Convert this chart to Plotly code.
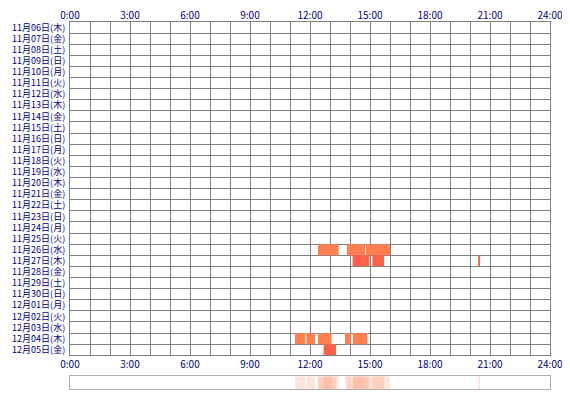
import plotly.graph_objects as go

weekdays = ["日", "月", "火", "水", "木", "金", "土"]
# 11/06 is Thursday
day_labels = []
month_days = [(11, d) for d in range(6, 31)] + [(12, d) for d in range(1, 6)]
for i, (m, d) in enumerate(month_days):
    day_labels.append(f"{m}月{d:02d}日({weekdays[(4 + i) % 7]})")

# active periods: row index, start hour, end hour, colour
bar_rows = [20, 20, 20, 21, 21, 21, 28, 28, 28, 28, 28, 29]
bar_start = [12.4, 13.85, 14.8, 14.13, 15.12, 20.4, 11.25, 11.82, 12.4, 13.75, 14.15, 12.68]
bar_end = [13.43, 14.75, 16.0, 14.97, 15.7, 20.5, 11.77, 12.25, 13.08, 14.05, 14.87, 13.3]
bar_colors = ["#FF7F50"] * 3 + ["#FF6347"] * 3 + ["#FF7F50"] * 5 + ["#FF6347"]

hour_text = [f"{h}:00" if h % 3 == 0 else "" for h in range(25)]

fig = go.Figure()
fig.add_trace(go.Bar(
    orientation="h",
    y=[r + 0.5 for r in bar_rows],
    base=bar_start,
    x=[e - s for s, e in zip(bar_start, bar_end)],
    width=1,
    marker=dict(color=bar_colors, line_width=0),
    xaxis="x", yaxis="y", showlegend=False,
))
# summary strip
fig.add_trace(go.Bar(
    orientation="h",
    y=[0.5] * len(bar_start),
    base=bar_start,
    x=[e - s for s, e in zip(bar_start, bar_end)],
    width=1,
    marker=dict(color="#FF7F50", opacity=0.2, line_width=0),
    xaxis="x3", yaxis="y2", showlegend=False,
))

tickfont = dict(family="Noto Sans CJK JP", size=10, color="#000080")
yfont = dict(family="Noto Sans CJK JP", size=9, color="#000080")
xcommon = dict(range=[0, 24], tickvals=list(range(25)), ticktext=hour_text,
               showgrid=True, gridcolor="#808080", gridwidth=1, zeroline=False,
               tickfont=tickfont, ticks="", fixedrange=True, automargin=False,
               ticklabeloverflow="allow")

fig.update_layout(
    width=554, height=384,
    margin=dict(l=62, r=12, t=14, b=3),
    plot_bgcolor="white", paper_bgcolor="white",
    barmode="overlay",
    xaxis=dict(**xcommon, anchor="y", showline=True, linecolor="#808080", mirror=True),
    xaxis2=dict(**xcommon, overlaying="x", side="top", anchor="y"),
    xaxis3=dict(range=[0, 24], anchor="y2", showticklabels=False, showgrid=False,
                zeroline=False, showline=True, linecolor="#b0b0b0", mirror=True,
                automargin=False),
    yaxis=dict(domain=[0.092, 1], range=[30, 0], tickvals=[i + 0.5 for i in range(30)],
               ticktext=day_labels, tickfont=yfont, showgrid=False, zeroline=False,
               ticks="", showline=True, linecolor="#808080", mirror=True,
               automargin=False, ticklabelstandoff=2, ticklabeloverflow="allow",
               minor=dict(tickvals=list(range(31)), showgrid=True, gridcolor="#808080",
                          gridwidth=1)),
    yaxis2=dict(domain=[0, 0.035], range=[0, 1], showticklabels=False, showgrid=False,
                zeroline=False, showline=True, linecolor="#b0b0b0", mirror=True,
                automargin=False),
)
# dummy trace so the top axis is drawn
fig.add_trace(go.Scatter(x=[0, 24], y=[0, 0], mode="markers", opacity=0,
                         xaxis="x2", yaxis="y", showlegend=False, hoverinfo="skip"))

fig.write_html("out.html")
